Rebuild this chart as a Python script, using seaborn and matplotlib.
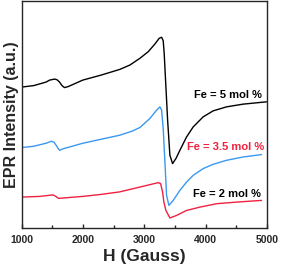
import matplotlib
matplotlib.use("Agg")
import matplotlib.pyplot as plt
import seaborn as sns
import pandas as pd
from matplotlib.ticker import MultipleLocator

sns.set_style("ticks")
plt.rcParams['font.family'] = ['Liberation Sans', 'DejaVu Sans']
plt.rcParams['font.weight'] = 'bold'

# Field values (Gauss) and intensities (a.u.)
h_5 = [1000, 1200, 1400, 1460, 1540, 1580, 1620, 1660, 1700, 1760, 2000, 2300, 2605, 2767,
       2930, 3066, 3175, 3245, 3284, 3310, 3326, 3354, 3382, 3419, 3463, 3520, 3582, 3691,
       3799, 3961, 4124, 4343, 4613, 4994]
y_5 = [143, 144.5, 148, 150, 151, 150.3, 148, 144.5, 142.5, 143.5, 150, 155, 160.7, 165,
       171.7, 178.3, 186, 191.7, 192.7, 189.3, 176.7, 143.3, 110, 75, 66.7, 72, 80, 93.3,
       103.3, 113.3, 119.3, 123.3, 126, 128.3]

h_35 = [1000, 1200, 1400, 1486, 1530, 1570, 1600, 1622, 1680, 2000, 2300, 2600, 2800, 2930,
        3093, 3202, 3257, 3284, 3310, 3338, 3365, 3403, 3473, 3582, 3691, 3799, 3961, 4124,
        4343, 4613, 4913]
y_35 = [82.7, 84, 87, 89, 88, 84.5, 81.5, 80, 81.5, 87, 91, 95, 99, 102.7,
        111.7, 120, 123.3, 120, 101.7, 68.3, 35, 25, 30, 40, 48.3, 55, 61.7, 66,
        70, 73.3, 75.7]

h_2 = [1000, 1300, 1513, 1560, 1606, 1700, 2000, 2300, 2600, 2930, 3093, 3229, 3268, 3300,
       3321, 3354, 3419, 3528, 3691, 3908, 4180, 4505, 4913]
y_2 = [33.3, 34, 35.5, 34, 32, 32.5, 34, 36, 38.5, 43.3, 45.7, 47.7, 46.7, 38.3,
       28.3, 20, 12.5, 15, 20, 23.3, 26.7, 28.3, 30]

labels = ["Fe = 5 mol %", "Fe = 3.5 mol %", "Fe = 2 mol %"]

df = pd.concat([
    pd.DataFrame({"H": h_5, "I": y_5, "s": labels[0]}),
    pd.DataFrame({"H": h_35, "I": y_35, "s": labels[1]}),
    pd.DataFrame({"H": h_2, "I": y_2, "s": labels[2]}),
])

palette = {labels[0]: "#000000", labels[1]: "#3a98f0", labels[2]: "#f0213f"}
text_colors = ["#000000", "#f0213f", "#000000"]

fig = plt.figure(figsize=(2.83, 2.72), dpi=100)
ax = fig.add_axes([0.076, 0.16, 0.867, 0.835])
sns.lineplot(data=df, x="H", y="I", hue="s", palette=palette, ax=ax,
             legend=False, linewidth=1.0, sort=False, estimator=None)

ax.set_xlim(1000, 5000)
ax.set_ylim(2, 228.5)
ax.set_yticks([])
ax.xaxis.set_major_locator(MultipleLocator(1000))
ax.xaxis.set_minor_locator(MultipleLocator(500))
ax.tick_params(axis='x', which='major', direction='in', length=3, width=1, labelsize=7.5, pad=5)
ax.tick_params(axis='x', which='minor', direction='in', length=2, width=1)
for lbl in ax.get_xticklabels():
    lbl.set_fontweight('bold')
for sp in ax.spines.values():
    sp.set_linewidth(1.0)
    sp.set_visible(True)

ax.set_xlabel("H (Gauss)", fontsize=12.5, fontweight='bold', labelpad=2.5)
ax.set_ylabel("EPR Intensity (a.u.)", fontsize=11.5, fontweight='bold', labelpad=2)

text_pos = [(4920, 135), (4960, 83.3), (4900, 36.7)]
for lab, (x, y), c in zip(labels, text_pos, text_colors):
    ax.text(x, y, lab, ha='right', va='center', fontsize=8, fontweight='bold', color=c)

fig.savefig("out.png", dpi=100)
